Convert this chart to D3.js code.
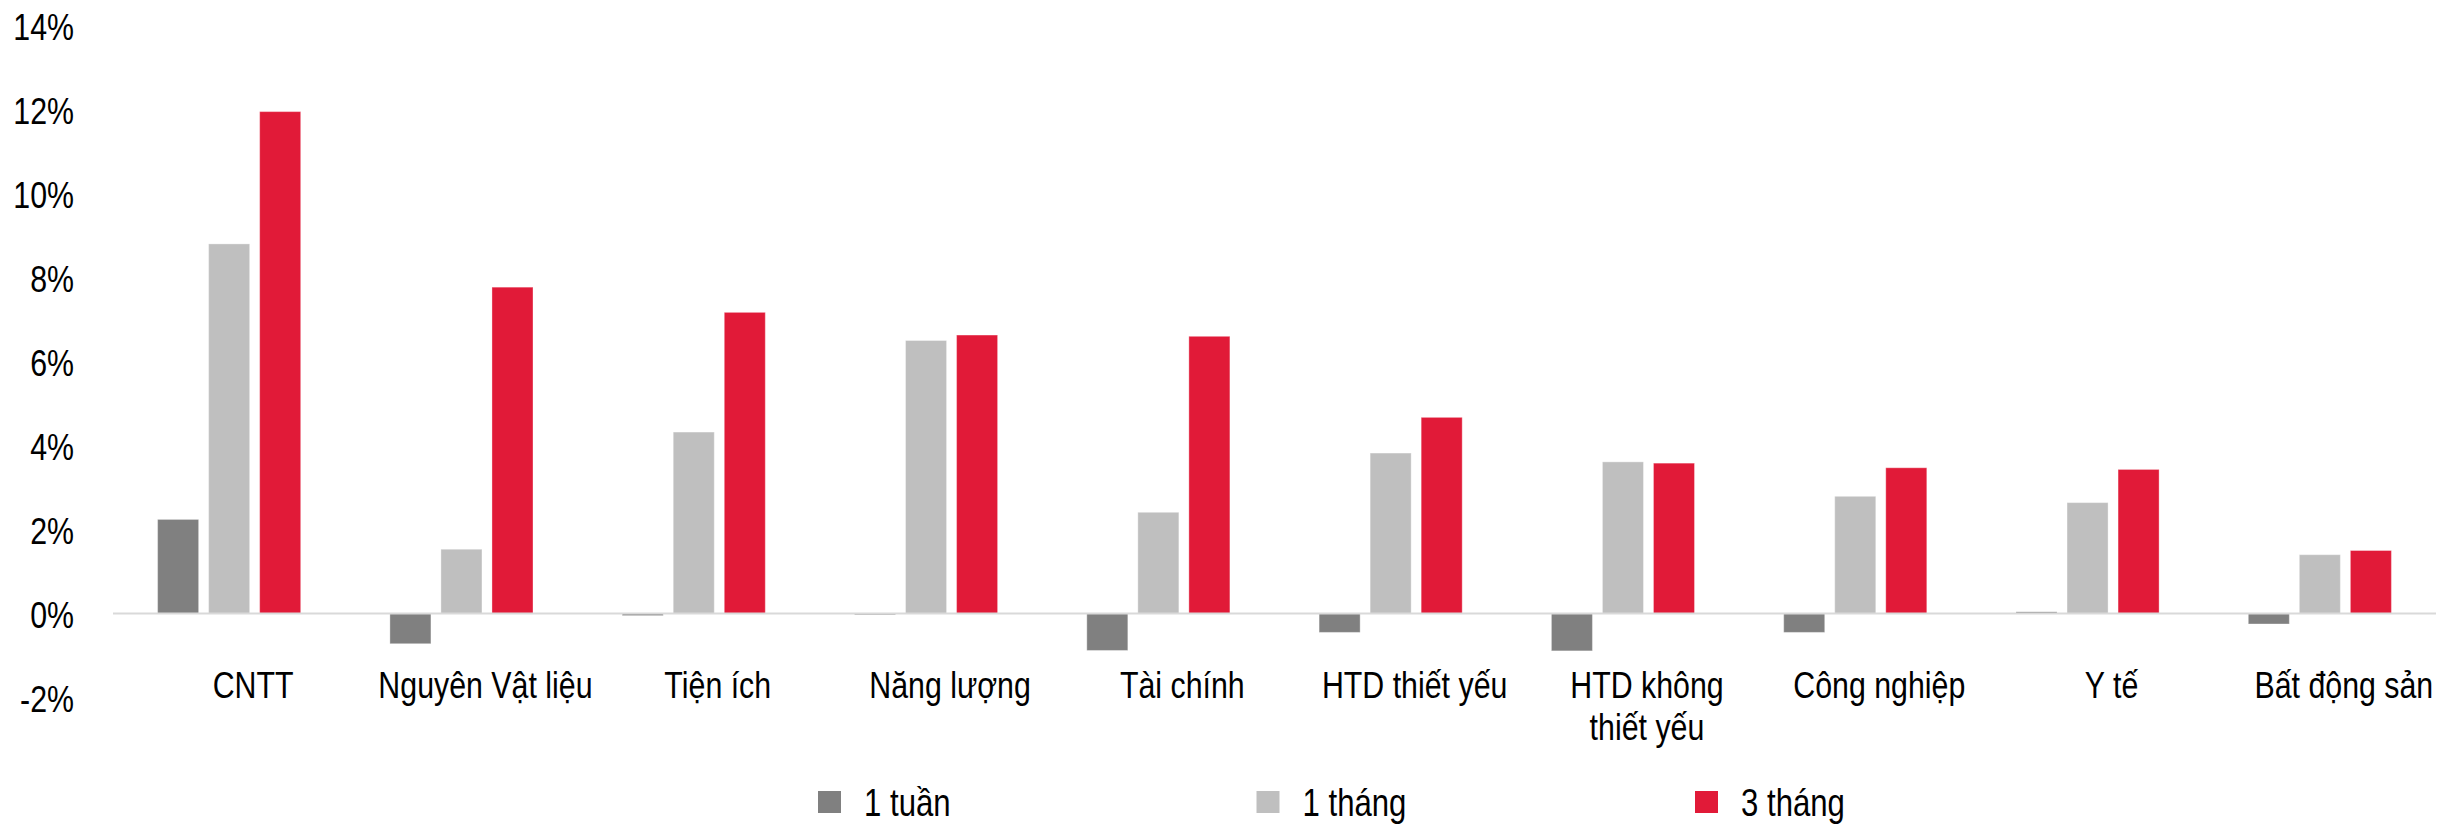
<!DOCTYPE html>
<html>
<head>
<meta charset="utf-8">
<script src="https://cdn.jsdelivr.net/npm/d3@7/dist/d3.min.js"></script>
<style>
  html, body { margin: 0; padding: 0; background: #ffffff; }
  svg { display: block; }
  text { font-family: 'Liberation Sans Narrow', 'Arial Narrow', 'Liberation Sans', Arial, sans-serif; fill: #000; }
</style>
</head>
<body>
<svg id="chart" width="2463" height="825"></svg>
<script>
// Sector performance by holding period (%)
const categories = ["CNTT", "Nguyên Vật liệu", "Tiện ích", "Năng lượng", "Tài chính",
                    "HTD thiết yếu", "HTD không thiết yếu", "Công nghiệp", "Y tế", "Bất động sản"];
const seriesNames = ["1 tuần", "1 tháng", "3 tháng"];
const week1  = [2.24, -0.72, -0.05, -0.03, -0.88, -0.45, -0.89, -0.45, 0.04, -0.25];
const month1 = [8.80, 1.53, 4.32, 6.50, 2.41, 3.82, 3.61, 2.79, 2.64, 1.40];
const month3 = [11.95, 7.77, 7.17, 6.63, 6.60, 4.67, 3.58, 3.47, 3.43, 1.50];
const yTicks = [-2, 0, 2, 4, 6, 8, 10, 12, 14];
const seriesColors = ["#808080", "#bfbfbf", "#e11a38"];

const seriesValues = [week1, month1, month3];
const rows = categories.map((c, i) => ({
  category: c,
  values: seriesNames.map((s, j) => ({ series: s, value: seriesValues[j][i] }))
}));

const svg = d3.select("#chart");
const plotLeft = 113, plotRight = 2436, plotTop = 25.5, plotBottom = 697.5;
// condensed lettering: regular sans squeezed horizontally
const narrow = 0.82;

const x0 = d3.scaleBand().domain(categories).range([plotLeft, plotRight])
  .paddingInner(0.384).paddingOuter(0.192);
const x1 = d3.scaleBand().domain(seriesNames).range([0, x0.bandwidth()])
  .paddingInner(0.196).paddingOuter(0);
const y = d3.scaleLinear().domain([-2, 14]).range([plotBottom, plotTop]);
const color = d3.scaleOrdinal().domain(seriesNames).range(seriesColors);

// Y axis labels
const yAxis = d3.axisLeft(y).tickValues(yTicks).tickFormat(d => d + "%")
  .tickSize(0).tickPadding(0);
const gy = svg.append("g").attr("transform", "translate(74,0)").call(yAxis);
gy.select(".domain").remove();
gy.selectAll("text").attr("x", 0).attr("dy", "0.37em")
  .attr("transform", `scale(${narrow},1)`)
  .style("font-size", "37px")
  .style("font-family", "'Liberation Sans', Arial, sans-serif").attr("fill", "#000");

// Bars
const groups = svg.append("g").selectAll("g").data(rows).join("g")
  .attr("transform", d => `translate(${x0(d.category)},0)`);
groups.selectAll("rect").data(d => d.values).join("rect")
  .attr("x", d => x1(d.series))
  .attr("width", x1.bandwidth())
  .attr("y", d => y(Math.max(0, d.value)))
  .attr("height", d => Math.abs(y(d.value) - y(0)))
  .attr("fill", d => color(d.series))
  .attr("stroke", "#ffffff").attr("stroke-opacity", 0.35).attr("stroke-width", 1);

// Zero line
svg.append("line")
  .attr("x1", plotLeft).attr("x2", plotRight)
  .attr("y1", y(0)).attr("y2", y(0))
  .attr("stroke", "#d9d9d9").attr("stroke-width", 2);

// Category labels, wrapped to a fixed label width
const labelShift = 24;
const labelWidth = 217;
const labelBaseline = 698, lineHeight = 42;
const labelGroups = svg.append("g").selectAll("g").data(categories).join("g")
  .attr("transform", d => `translate(${x0(d) + x0.bandwidth() / 2 + labelShift},${labelBaseline})`);
const labels = labelGroups.append("text")
  .attr("text-anchor", "middle")
  .attr("transform", `scale(${narrow},1)`)
  .style("font-size", "37px");

labels.each(function (d) {
  const t = d3.select(this);
  const words = d.split(" ");
  const lines = [];
  let cur = [];
  const probe = t.append("tspan");
  words.forEach(w => {
    const trial = cur.concat([w]).join(" ");
    probe.text(trial);
    if (probe.node().getComputedTextLength() * narrow > labelWidth && cur.length) {
      lines.push(cur.join(" "));
      cur = [w];
    } else {
      cur.push(w);
    }
  });
  lines.push(cur.join(" "));
  probe.remove();
  lines.forEach((ln, i) => {
    t.append("tspan").attr("x", 0).attr("y", i * lineHeight).text(ln);
  });
});

// Legend
const legendStart = 818, legendStep = 438.5, legendY = 802, sw = 22;
const legend = svg.append("g").selectAll("g").data(seriesNames).join("g")
  .attr("transform", (d, i) => `translate(${legendStart + i * legendStep},${legendY})`);
legend.append("rect").attr("x", 0).attr("y", -sw / 2).attr("width", sw + 1).attr("height", sw)
  .attr("fill", d => color(d));
legend.append("text").attr("x", 0).attr("y", 0).attr("dy", "0.36em")
  .attr("transform", `translate(${sw + 24},0) scale(${narrow},1)`)
  .style("font-size", "38px").text(d => d);
</script>
</body>
</html>
